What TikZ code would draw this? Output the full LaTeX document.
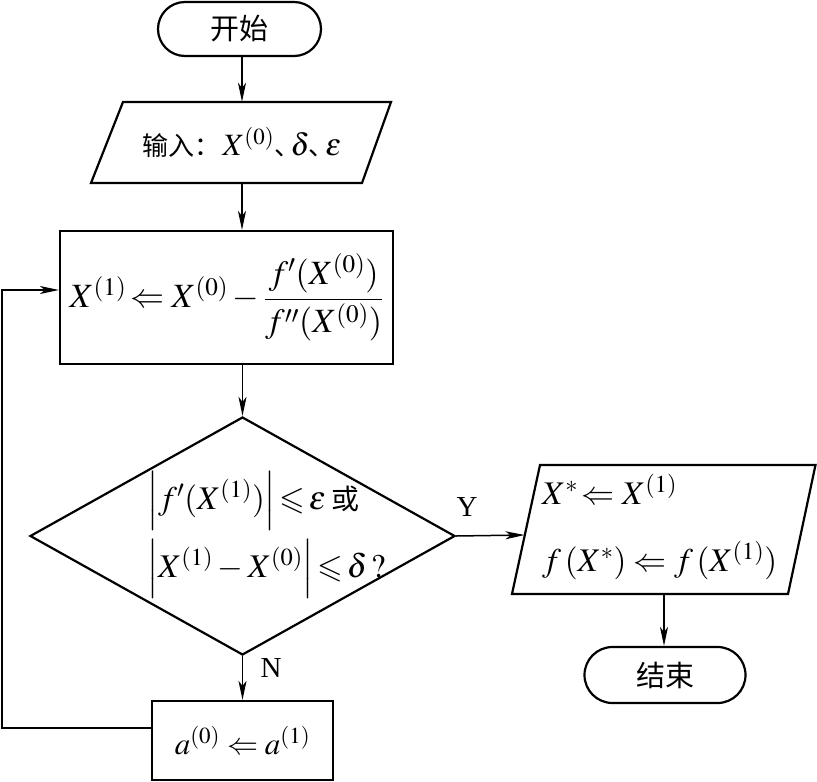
\documentclass[tikz,border=0pt]{standalone}
\usepackage{amsmath,amssymb}
\usepackage{mathptmx}
\usepackage{fontspec}
\setmainfont{Liberation Serif}
\newfontfamily\cjk{Noto Sans CJK SC}
\usetikzlibrary{arrows.meta,shapes.geometric}
\newcommand{\fsz}[2]{\fontsize{#1}{#2}\selectfont}
\newcommand{\dun}{{\cjk\fsz{26}{30}、}}
\begin{document}
\begin{tikzpicture}[x=1pt,y=-1pt,
  box/.style={draw, line width=2.2pt, inner sep=0pt},
  term/.style={box, rounded corners=27pt},
  ghost/.style={inner sep=0pt},
  conn/.style={line width=1.5pt, -{Stealth[length=19pt,width=8pt,inset=5pt]}},
  ctxt/.style={font=\fsz{29}{34}},
  lbl/.style={font=\fsz{29}{34}}]
\useasboundingbox (0,0) rectangle (817,782);
% shapes
\node[term, minimum width=163pt, minimum height=54pt, ctxt] (start) at (239.5,29) {\cjk 开始};
\draw[line width=2.2pt, line join=miter] (123,102) -- (391,102) -- (362,183) -- (91,183) -- cycle;
\node[ghost, minimum width=240pt, minimum height=81pt, font=\fsz{31}{36}] (input) at (242,142.5)
  {{\cjk\fsz{26}{30}输入：}\hspace{2pt}$X^{(0)}$\dun\hspace{-9.5pt}$\delta$\hspace{-1pt}\dun\hspace{-9.5pt}$\varepsilon$};
\node[box, minimum width=333pt, minimum height=133pt, font=\fsz{34}{40}] (update) at (226.5,297.5)
  {$X^{(1)}\!\Leftarrow X^{(0)} - \dfrac{f'(X^{(0)})}{f''(X^{(0)})}$};
\node[box, shape=diamond, aspect=1.786, minimum width=425pt, minimum height=238pt] (cond) at (242.5,536) {};
\node[ghost, anchor=west, align=left, font=\fsz{33}{68}] (condtext) at (147,535)
  {$\left|f'(X^{(1)})\right|\!\leqslant\!\varepsilon$\,{\cjk\fsz{28}{68}或}\\
   $\left|X^{(1)}-X^{(0)}\right|\!\leqslant\!\delta\,?$};
\draw[line width=2.2pt, line join=miter] (540,465) -- (815.5,465) -- (788,594) -- (512,594) -- cycle;
\node[ghost, minimum width=250pt, minimum height=129pt] (output) at (664,529.5) {};
\node[ghost, anchor=west, align=left, font=\fsz{33}{67}] (outtext) at (542,527)
  {$X^{*}\!\Leftarrow X^{(1)}$\\ $f\,(X^{*})\Leftarrow f\,(X^{(1)})$};
\coordinate (outin) at (524.5,535);
\node[term, minimum width=161pt, minimum height=56pt, rounded corners=28pt, ctxt] (end) at (665,675) {\cjk 结束};
\node[box, minimum width=181pt, minimum height=79pt, font=\fsz{31}{36}] (aupd) at (242.5,740.5) {$a^{(0)}\Leftarrow a^{(1)}$};
% labels
\node[lbl] (ylab) at (467,507) {Y};
\node[lbl] (nlab) at (271,668) {N};
% connectors
\draw[conn] (start.south -| input.north) -- (input.north);
\draw[conn] (input.south) -- (input.south |- update.north);
\draw[conn] (update.south -| cond.north) -- (cond.north);
\draw[conn] (cond.east) -- (outin);
\draw[conn] (cond.south) -- (aupd.north);
\draw[conn] (output.south) -- (output.south |- end.north);
\draw[conn] ([yshift=12.5pt]aupd.west) -- (2,728) -- (2,290) -- ([yshift=7.5pt]update.west);
\end{tikzpicture}
\end{document}
